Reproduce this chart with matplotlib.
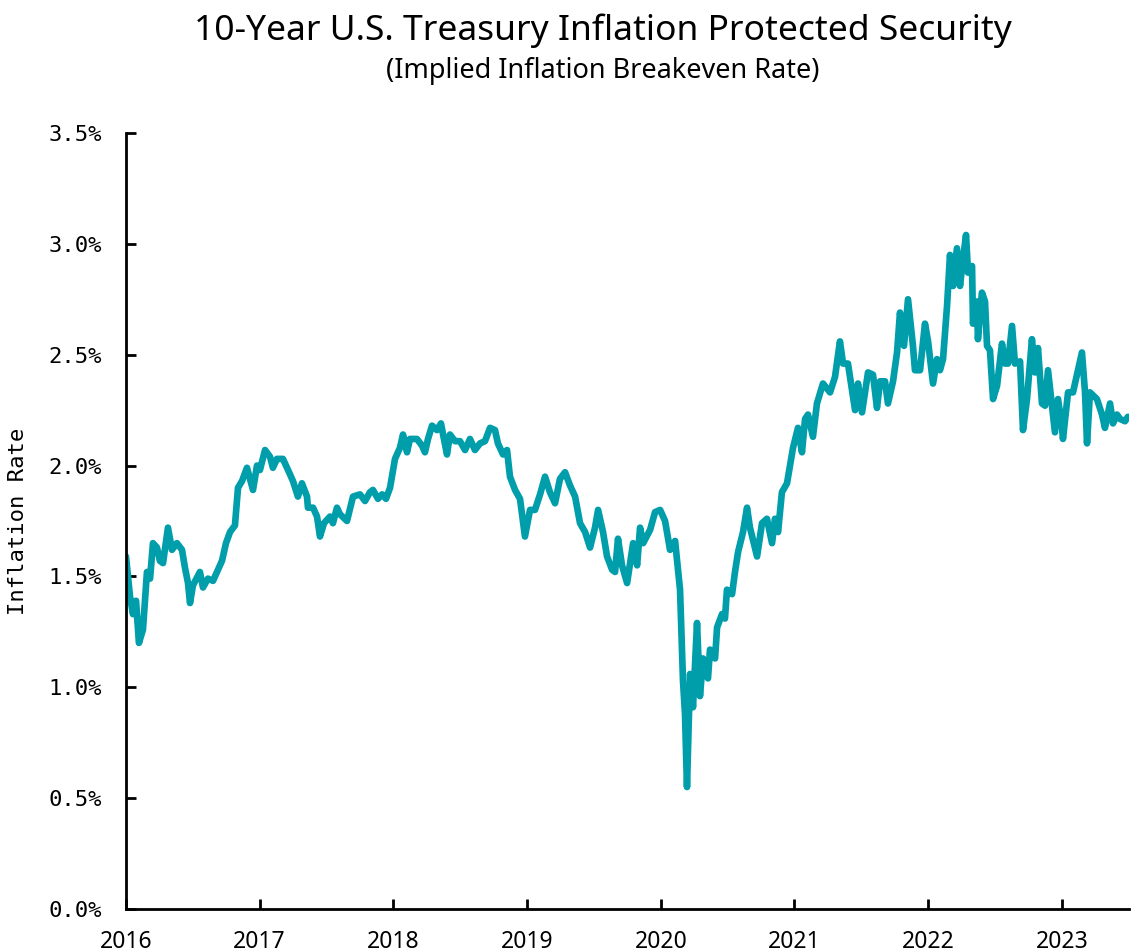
import matplotlib
matplotlib.use("Agg")
import matplotlib.pyplot as plt
from matplotlib.ticker import FuncFormatter

# decimal year, breakeven rate in percent
years = [
    2016.000, 2016.030, 2016.052, 2016.075, 2016.097, 2016.127, 2016.157, 2016.180,
    2016.202, 2016.232, 2016.254, 2016.277, 2016.314, 2016.344, 2016.381, 2016.419,
    2016.441, 2016.464, 2016.479, 2016.501, 2016.553, 2016.576, 2016.613, 2016.651,
    2016.681, 2016.718, 2016.748, 2016.778, 2016.815, 2016.838, 2016.868, 2016.905,
    2016.950, 2016.980, 2017.002, 2017.040, 2017.077, 2017.099, 2017.129, 2017.174,
    2017.212, 2017.249, 2017.286, 2017.316, 2017.354, 2017.361, 2017.399, 2017.429,
    2017.451, 2017.481, 2017.526, 2017.548, 2017.578, 2017.601, 2017.653, 2017.698,
    2017.750, 2017.788, 2017.825, 2017.847, 2017.885, 2017.915, 2017.945, 2017.975,
    2018.012, 2018.049, 2018.072, 2018.102, 2018.124, 2018.176, 2018.214, 2018.236,
    2018.259, 2018.289, 2018.326, 2018.356, 2018.378, 2018.401, 2018.423, 2018.461,
    2018.498, 2018.536, 2018.573, 2018.610, 2018.648, 2018.685, 2018.723, 2018.760,
    2018.782, 2018.820, 2018.850, 2018.872, 2018.910, 2018.947, 2018.984, 2019.022,
    2019.059, 2019.097, 2019.134, 2019.171, 2019.209, 2019.246, 2019.284, 2019.321,
    2019.359, 2019.396, 2019.434, 2019.471, 2019.508, 2019.531, 2019.568, 2019.598,
    2019.636, 2019.658, 2019.680, 2019.710, 2019.748, 2019.793, 2019.823, 2019.845,
    2019.868, 2019.920, 2019.957, 2019.995, 2020.032, 2020.069, 2020.107, 2020.144,
    2020.166, 2020.181, 2020.196, 2020.219, 2020.241, 2020.271, 2020.293, 2020.316,
    2020.331, 2020.353, 2020.368, 2020.406, 2020.421, 2020.458, 2020.480, 2020.495,
    2020.533, 2020.555, 2020.578, 2020.615, 2020.645, 2020.667, 2020.720, 2020.757,
    2020.794, 2020.832, 2020.854, 2020.877, 2020.906, 2020.944, 2020.989, 2021.026,
    2021.056, 2021.079, 2021.101, 2021.138, 2021.168, 2021.213, 2021.266, 2021.303,
    2021.340, 2021.363, 2021.400, 2021.430, 2021.453, 2021.475, 2021.505, 2021.550,
    2021.587, 2021.617, 2021.640, 2021.677, 2021.699, 2021.737, 2021.767, 2021.789,
    2021.819, 2021.849, 2021.886, 2021.901, 2021.939, 2021.976, 2021.999, 2022.036,
    2022.066, 2022.088, 2022.111, 2022.141, 2022.163, 2022.186, 2022.215, 2022.238,
    2022.260, 2022.283, 2022.298, 2022.328, 2022.335, 2022.365, 2022.372, 2022.402,
    2022.425, 2022.440, 2022.462, 2022.485, 2022.515, 2022.552, 2022.575, 2022.597,
    2022.627, 2022.649, 2022.687, 2022.709, 2022.739, 2022.776, 2022.799, 2022.821,
    2022.851, 2022.874, 2022.896, 2022.926, 2022.948, 2022.971, 2023.001, 2023.008,
    2023.046, 2023.083, 2023.120, 2023.150, 2023.173, 2023.188, 2023.210, 2023.262,
    2023.300, 2023.322, 2023.360, 2023.382, 2023.412, 2023.435, 2023.472, 2023.494,
]
rate = [
    1.59, 1.41, 1.33, 1.39, 1.20, 1.26, 1.52, 1.49,
    1.65, 1.63, 1.57, 1.56, 1.72, 1.62, 1.65, 1.62,
    1.54, 1.47, 1.38, 1.46, 1.52, 1.45, 1.49, 1.48,
    1.52, 1.57, 1.65, 1.70, 1.73, 1.90, 1.93, 1.99,
    1.89, 2.00, 1.98, 2.07, 2.04, 1.99, 2.03, 2.03,
    1.98, 1.93, 1.86, 1.92, 1.86, 1.81, 1.81, 1.77,
    1.68, 1.74, 1.77, 1.74, 1.81, 1.78, 1.75, 1.86,
    1.87, 1.84, 1.88, 1.89, 1.85, 1.87, 1.85, 1.90,
    2.03, 2.08, 2.14, 2.06, 2.12, 2.12, 2.09, 2.06,
    2.12, 2.18, 2.16, 2.19, 2.12, 2.05, 2.14, 2.11,
    2.11, 2.07, 2.12, 2.07, 2.10, 2.11, 2.17, 2.16,
    2.10, 2.05, 2.07, 1.95, 1.89, 1.85, 1.68, 1.80,
    1.80, 1.87, 1.95, 1.88, 1.83, 1.94, 1.97, 1.91,
    1.86, 1.74, 1.70, 1.63, 1.72, 1.80, 1.70, 1.59,
    1.53, 1.52, 1.67, 1.55, 1.47, 1.65, 1.55, 1.72,
    1.65, 1.71, 1.79, 1.80, 1.75, 1.62, 1.66, 1.44,
    1.03, 0.88, 0.55, 1.06, 0.91, 1.29, 0.96, 1.13,
    1.07, 1.04, 1.17, 1.13, 1.27, 1.33, 1.31, 1.44,
    1.42, 1.52, 1.61, 1.70, 1.81, 1.72, 1.59, 1.74,
    1.76, 1.65, 1.76, 1.70, 1.88, 1.92, 2.08, 2.17,
    2.06, 2.21, 2.23, 2.13, 2.28, 2.37, 2.33, 2.40,
    2.56, 2.46, 2.46, 2.34, 2.25, 2.37, 2.24, 2.42,
    2.41, 2.26, 2.38, 2.38, 2.28, 2.38, 2.51, 2.69,
    2.54, 2.75, 2.54, 2.43, 2.43, 2.64, 2.56, 2.37,
    2.48, 2.43, 2.48, 2.72, 2.95, 2.81, 2.98, 2.81,
    2.93, 3.04, 2.87, 2.90, 2.64, 2.74, 2.57, 2.78,
    2.74, 2.54, 2.52, 2.30, 2.36, 2.55, 2.46, 2.46,
    2.63, 2.46, 2.47, 2.16, 2.30, 2.57, 2.42, 2.53,
    2.28, 2.27, 2.43, 2.27, 2.15, 2.30, 2.17, 2.12,
    2.33, 2.33, 2.43, 2.51, 2.33, 2.10, 2.33, 2.30,
    2.23, 2.17, 2.28, 2.19, 2.23, 2.21, 2.20, 2.22,
]

year_ticks = [2016, 2017, 2018, 2019, 2020, 2021, 2022, 2023]
rate_ticks = [0.0, 0.5, 1.0, 1.5, 2.0, 2.5, 3.0, 3.5]

fig = plt.figure(figsize=(11.39, 9.52), dpi=100)
ax = fig.add_axes([0.1106, 0.0452, 0.8804, 0.8151])

ax.plot(years, rate, color='#009DAA', lw=4.8, solid_joinstyle='round', solid_capstyle='round')

ax.set_xlim(2016, 2023.5)
ax.set_ylim(0, 3.5)
ax.set_xticks(year_ticks)
ax.set_xticklabels([str(y) for y in year_ticks], fontfamily='Noto Sans', fontsize=16.5)
ax.set_yticks(rate_ticks)
ax.yaxis.set_major_formatter(FuncFormatter(lambda v, p: "%.1f%%" % v))
for lab in ax.get_yticklabels():
    lab.set_fontfamily('DejaVu Sans Mono')
    lab.set_fontsize(16)

ax.tick_params(axis='both', direction='in', length=7, width=2, color='black')
ax.tick_params(axis='y', pad=17)
ax.tick_params(axis='x', pad=15)
for s in ['top', 'right']:
    ax.spines[s].set_visible(False)
for s in ['left', 'bottom']:
    ax.spines[s].set_linewidth(2)

ax.set_ylabel('Inflation Rate', fontfamily='DejaVu Sans Mono', fontsize=16)
ax.yaxis.set_label_coords(-0.098, 0.5)

fig.text(0.529, 0.968, '10-Year U.S. Treasury Inflation Protected Security',
         ha='center', va='center', fontfamily='Noto Sans', fontsize=25.5)
fig.text(0.529, 0.925, '(Implied Inflation Breakeven Rate)',
         ha='center', va='center', fontfamily='Noto Sans', fontsize=19.5)

fig.savefig('out.png', dpi=100)
